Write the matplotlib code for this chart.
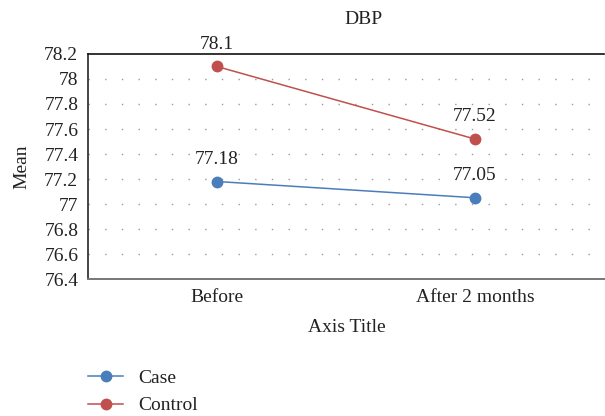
import matplotlib
matplotlib.use("Agg")
import matplotlib.pyplot as plt

categories = ["Before", "After 2 months"]
case_vals = [77.18, 77.05]
control_vals = [78.1, 77.52]
y_ticks = [76.4, 76.6, 76.8, 77.0, 77.2, 77.4, 77.6, 77.8, 78.0, 78.2]
y_tick_labels = ["76.4", "76.6", "76.8", "77", "77.2", "77.4", "77.6", "77.8", "78", "78.2"]

plt.rcParams['font.family'] = ['Liberation Serif', 'DejaVu Serif']
plt.rcParams['font.size'] = 14

blue = "#4a7ebb"
red = "#c0504d"

fig = plt.figure(figsize=(6.05, 4.16), dpi=100)
ax = fig.add_axes([0.1455, 0.3293, 0.8525, 0.5409])

x = list(range(len(categories)))
ax.plot(x, case_vals, color=blue, lw=1.1, marker="o", ms=7.5, label="Case")
ax.plot(x, control_vals, color=red, lw=1.1, marker="o", ms=7.5, label="Control")

for vals in (case_vals, control_vals):
    for xi, v in zip(x, vals):
        ax.annotate(f"{v:g}", (xi, v), xytext=(0, 16), textcoords="offset points",
                    ha="center", va="center", fontsize=14, color="#222222")

ax.set_xlim(-0.5, 1.5)
ax.set_ylim(76.4, 78.2)
ax.set_yticks(y_ticks)
ax.set_yticklabels(y_tick_labels)
ax.set_xticks(x)
ax.set_xticklabels(categories)
ax.tick_params(length=0, pad=7, colors="#222222")

for t in y_ticks[1:-1]:
    ax.axhline(t, color="#999999", lw=1, ls=(0, (1, 11)), zorder=0)

ax.spines["right"].set_visible(False)
ax.spines["top"].set_color("#111111")
ax.spines["top"].set_linewidth(1.2)
ax.spines["left"].set_color("#444444")
ax.spines["left"].set_linewidth(1.4)
ax.spines["bottom"].set_color("#777777")
ax.spines["bottom"].set_linewidth(1.4)

fig.text(0.6, 0.952, "DBP", ha="center", va="center", fontsize=14, color="#222222")
fig.text(0.037, 0.598, "Mean", rotation=90, ha="center", va="center", fontsize=14, color="#222222")
fig.text(0.573, 0.212, "Axis Title", ha="center", va="center", fontsize=14, color="#222222")

fig.legend(loc="upper left", bbox_to_anchor=(0.146, 0.112), frameon=False,
           borderpad=0, borderaxespad=0, handlelength=1.8, handletextpad=0.75,
           labelspacing=0.5, fontsize=14, labelcolor="#222222")

fig.savefig("out.png", dpi=100)
